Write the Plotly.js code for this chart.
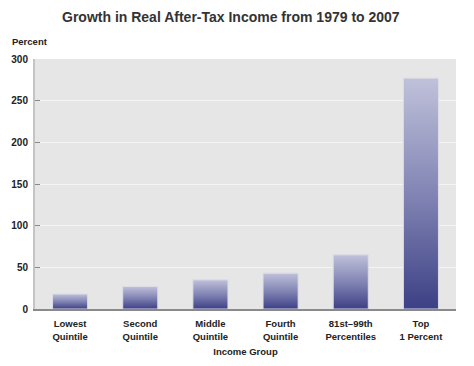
<!DOCTYPE html>
<html>
<head>
<meta charset="utf-8">
<script src="https://cdn.plot.ly/plotly-3.0.1.min.js"></script>
<style>
  html, body { margin: 0; padding: 0; background: #fff; }
  #chart { width: 474px; height: 366px; }
</style>
</head>
<body>
<div id="chart"></div>
<script>
const categories = ["Lowest<br>Quintile", "Second<br>Quintile", "Middle<br>Quintile", "Fourth<br>Quintile", "81st–99th<br>Percentiles", "Top<br>1 Percent"];
const growthPercent = [18, 27, 35, 43, 65, 277];
const yTicks = [0, 50, 100, 150, 200, 250, 300];

const FONT = "Liberation Sans, Arial, sans-serif";
const bold = s => s.split("<br>").map(p => "<b>" + p + "</b>").join("<br>");

const trace = {
  type: "bar",
  x: categories,
  y: growthPercent,
  marker: { color: "#6a6ea4", line: { color: "#dcdce6", width: 1 } },
  hoverinfo: "x+y"
};

const layout = {
  width: 474,
  height: 366,
  margin: { l: 35, r: 18, t: 59, b: 57 },
  paper_bgcolor: "#ffffff",
  plot_bgcolor: "#e6e6e6",
  bargap: 0.5,
  showlegend: false,
  font: { family: FONT, color: "#222222", size: 9.5 },
  title: {
    text: "<b>Growth in Real After-Tax Income from 1979 to 2007</b>",
    font: { family: FONT, size: 14, color: "#333333" },
    x: 0.487, xanchor: "center", y: 0.953, yanchor: "middle"
  },
  xaxis: {
    type: "category",
    tickvals: categories,
    ticktext: categories.map(bold),
    tickfont: { family: FONT, size: 9.5, color: "#222" },
    ticks: "",
    showline: true, linecolor: "#8a8a8a", linewidth: 2,
    showgrid: false, zeroline: false,
    ticklabelstandoff: 5,
    title: { text: "<b>Income Group</b>", font: { family: FONT, size: 9.5, color: "#222" }, standoff: 8 }
  },
  yaxis: {
    range: [0, 300],
    tickvals: yTicks,
    ticktext: yTicks.map(v => "<b>" + v + "</b>"),
    tickfont: { family: FONT, size: 10, color: "#222" },
    ticks: "inside", ticklen: 5, tickcolor: "#8a8a8a", tickwidth: 1,
    showline: true, linecolor: "#c4c4c4", linewidth: 2,
    gridcolor: "#f4f4f4", gridwidth: 1,
    zeroline: false,
    ticklabelstandoff: 3,
    fixedrange: true
  },
  annotations: [{
    text: "<b>Percent</b>", xref: "paper", yref: "paper",
    x: -0.06, y: 1.068, xanchor: "left", yanchor: "middle",
    showarrow: false, font: { family: FONT, size: 9.5, color: "#222" }
  }]
};

Plotly.newPlot("chart", [trace], layout, { displayModeBar: false, staticPlot: true }).then(gd => {
  const svg = gd.querySelector(".main-svg");
  const ns = "http://www.w3.org/2000/svg";
  let defs = svg.querySelector("defs");
  if (!defs) { defs = document.createElementNS(ns, "defs"); svg.insertBefore(defs, svg.firstChild); }
  const grad = document.createElementNS(ns, "linearGradient");
  grad.setAttribute("id", "barGrad");
  grad.setAttribute("x1", "0"); grad.setAttribute("y1", "0");
  grad.setAttribute("x2", "0"); grad.setAttribute("y2", "1");
  [["0", "#c0c1da"], ["0.5", "#8285b4"], ["1", "#3c4085"]].forEach(([o, c]) => {
    const s = document.createElementNS(ns, "stop");
    s.setAttribute("offset", o); s.setAttribute("stop-color", c);
    grad.appendChild(s);
  });
  defs.appendChild(grad);
  gd.querySelectorAll(".bars .point path").forEach(p => { p.style.fill = "url(#barGrad)"; });
});
</script>
</body>
</html>
